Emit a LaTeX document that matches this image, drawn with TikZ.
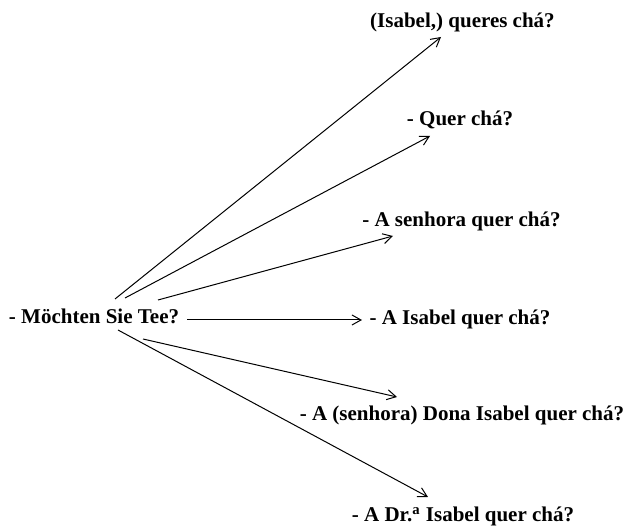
\documentclass[tikz,border=0pt]{standalone}
\usepackage{fontspec}
\setmainfont{Liberation Serif}
\usetikzlibrary{arrows.meta}
\begin{document}
\begin{tikzpicture}[x=0.5pt,y=-0.5pt,
  phrase/.style={anchor=base,inner sep=0pt,font=\fontsize{10.5pt}{12pt}\selectfont\bfseries},
  link/.style={line width=0.5pt,-{Straight Barb[length=4.5pt,width=5pt]}}]
\useasboundingbox (0,0) rectangle (627,528);

% source question and its renderings
\node[phrase] (src) at (94,324) {- Möchten Sie Tee?};
\node[phrase] (t1) at (462.5,28) {(Isabel,) queres chá?};
\node[phrase] (t2) at (460,126) {- Quer chá?};
\node[phrase] (t3) at (461.5,227) {- A senhora quer chá?};
\node[phrase] (t4) at (460,325) {- A Isabel quer chá?};
\node[phrase] (t5) at (462,421) {- A (senhora) Dona Isabel quer chá?};
\node[phrase] (t6) at (463,522) {- A Dr.\textsuperscript{a} Isabel quer chá?};

% start points around the source
\coordinate (s1) at (115,299);
\coordinate (s2) at (125,298);
\coordinate (s3) at (158,300);
\coordinate (s4) at (187,320);
\coordinate (s5) at (143,339);
\coordinate (s6) at (118,330);

% end points next to each rendering
\coordinate (e1) at (441,37);
\coordinate (e2) at (430,136);
\coordinate (e3) at (393,236);
\coordinate (e4) at (362,320);
\coordinate (e5) at (397,397);
\coordinate (e6) at (428,497);

\draw[link] (s1) -- (e1);
\draw[link] (s2) -- (e2);
\draw[link] (s3) -- (e3);
\draw[link] (s4) -- (e4);
\draw[link] (s5) -- (e5);
\draw[link] (s6) -- (e6);
\end{tikzpicture}
\end{document}
